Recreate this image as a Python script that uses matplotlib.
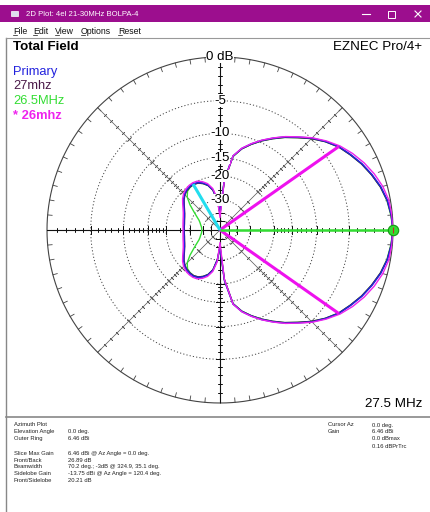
import numpy as np
import matplotlib
matplotlib.use("Agg")
import matplotlib.pyplot as plt
from matplotlib.patches import Rectangle

plt.rcParams['font.family'] = ['Liberation Sans', 'DejaVu Sans']

# ---------------- data (dB relative to outer ring, azimuth deg; symmetric pattern 0..180) ----------------
az_deg = [0, 5, 10, 15, 20, 25, 30, 35, 40, 45, 50, 55, 60, 65, 70, 75, 80, 85, 90,
          95, 100, 105, 110, 115, 120, 125, 130, 135, 140, 145, 150, 155, 160, 165, 170, 175, 180]
primary_db = [0.0, -0.1, -0.3, -0.65, -1.15, -1.7, -2.35, -3.0, -3.9, -4.9, -6.1, -7.2, -8.4, -9.6, -10.9,
              -12.3, -14.3, -21.0, -40.0,
              -30.0, -24.7, -22.5, -21.3, -20.5, -20.2, -20.3, -20.6, -21.2, -22.2, -23.4, -24.5, -25.4,
              -26.0, -26.4, -26.7, -26.85, -26.89]
mhz27_db = [0.0, -0.12, -0.32, -0.7, -1.2, -1.75, -2.4, -3.05, -3.95, -5.0, -6.2, -7.3, -8.5, -9.7, -11.0,
            -12.4, -14.4, -21.5, -40.0,
            -30.5, -25.0, -22.7, -21.5, -20.7, -20.4, -20.5, -20.8, -21.4, -22.4, -23.6, -24.7, -25.6,
            -26.2, -26.6, -26.9, -27.0, -27.1]
mhz265_db = [0.0, -0.15, -0.35, -0.7, -1.2, -1.75, -2.4, -3.05, -3.95, -5.0, -6.2, -7.3, -8.5, -9.7, -11.0,
             -12.4, -14.4, -21.5, -40.0,
             -30.0, -24.9, -22.7, -21.5, -20.7, -20.4, -20.6, -21.1, -22.6, -25.5, -29.0, -32.0, -34.5,
             -36.0, -37.0, -38.0, -38.5, -38.6]
mhz26_db = [0.0, -0.05, -0.15, -0.45, -0.9, -1.45, -2.1, -2.85, -3.8, -4.85, -6.05, -7.15, -8.35, -9.55, -10.85,
            -12.25, -14.25, -21.5, -45.0,
            -29.0, -24.2, -22.0, -20.8, -20.0, -19.8, -19.9, -20.2, -20.8, -21.7, -22.9, -24.0, -24.9,
            -25.5, -25.9, -26.2, -26.4, -26.5]

trace_names = ["Primary", "27mhz", "26.5MHz", "* 26mhz"]
trace_colors = ["#2222DD", "#4A1A48", "#33DD33", "#EE22EE"]

ring_db = [-5, -10, -15, -20, -30, -40, -50]
ring_labels = ["-5", "-10", "-15", "-20", "-30"]
tick_db = [-1, -2, -3, -4, -6, -7, -8, -9, -11, -12, -13, -14, -16, -17, -18, -19, -25]

beam_edges_az = [35.1, 324.9]
beam_edge_db = -3.0
sidelobe_az = 120.4
sidelobe_db = -20.21
cursor_az = 0.0
cursor_db = 0.0

info_left_labels = ["Azimuth Plot", "Elevation Angle", "Outer Ring", "Slice Max Gain", "Front/Back",
                    "Beamwidth", "Sidelobe Gain", "Front/Sidelobe"]
info_left_values = ["", "0.0 deg.", "6.46 dBi", "6.46 dBi @ Az Angle = 0.0 deg.", "26.89 dB",
                    "70.2 deg.; -3dB @ 324.9, 35.1 deg.", "-13.75 dBi @ Az Angle = 120.4 deg.", "20.21 dB"]
info_right_labels = ["Cursor Az", "Gain", "", ""]
info_right_values = ["0.0 deg.", "6.46 dBi", "0.0 dBmax", "0.16 dBPrTrc"]

# ---------------- figure ----------------
W, H = 430, 512
fig = plt.figure(figsize=(W / 100, H / 100), dpi=100)
fig.patch.set_facecolor("white")

bg = fig.add_axes([0, 0, 1, 1])
bg.set_xlim(0, W)
bg.set_ylim(H, 0)
bg.axis("off")

# window chrome
bg.add_patch(Rectangle((0, 5), W, 17, color="#9C0E8E", lw=0))
bg.text(26, 14, "2D Plot: 4el 21-30MHz BOLPA-4", color="white", fontsize=5.6, va="center", ha="left")
bg.add_patch(Rectangle((11, 11), 7, 5, facecolor="#DDDDEE", edgecolor="white", lw=0.5))
bg.plot([362, 370], [14, 14], color="white", lw=0.8)
bg.add_patch(Rectangle((387.5, 10.5), 7, 7, facecolor="none", edgecolor="white", lw=0.7))
bg.plot([415, 421], [11, 17], color="white", lw=0.8)
bg.plot([415, 421], [17, 11], color="white", lw=0.8)
menu = [("File", 13), ("Edit", 33), ("View", 55), ("Options", 81), ("Reset", 118)]
for name, x in menu:
    bg.text(x, 31, name, fontsize=6.3, ha="left", va="center", color="#111111")
    bg.plot([x, x + 4], [35.3, 35.3], color="#111111", lw=0.5)
bg.plot([5.5, 5.5], [38, H], color="#888888", lw=1.0)
bg.plot([5.5, W], [38, 38], color="#999999", lw=0.8)
bg.plot([5.5, W], [416.5, 416.5], color="#888888", lw=1.2)

# titles
bg.text(13, 47, "Total Field", fontsize=9.6, fontweight="bold", ha="left", va="center")
bg.text(422, 47, "EZNEC Pro/4+", fontsize=9.6, ha="right", va="center")
legend_y = [72, 86, 101, 116]
for name, col, y in zip(trace_names, trace_colors, legend_y):
    bg.text(13, y, name, fontsize=9.3, color=col, ha="left", va="center",
            fontweight="bold" if name.startswith("*") else "normal")
bg.text(422, 404, "27.5 MHz", fontsize=9.6, ha="right", va="center")

# info panel
rows_y = [425, 431.7, 438.7, 453.3, 460, 466.7, 473.3, 480]
for lab, val, y in zip(info_left_labels, info_left_values, rows_y):
    bg.text(14, y, lab, fontsize=4.2, ha="left", va="center", color="#222222")
    bg.text(68, y, val, fontsize=4.2, ha="left", va="center", color="#222222")
rows_r = [425, 431.7, 438.7, 446]
for lab, val, y in zip(info_right_labels, info_right_values, rows_r):
    bg.text(328, y, lab, fontsize=4.2, ha="left", va="center", color="#222222")
    bg.text(372, y, val, fontsize=4.2, ha="left", va="center", color="#222222")

# ---------------- polar plot (ARRL log scale) ----------------
cx, cy, R = 220, 230, 173
ax = fig.add_axes([(cx - R) / W, (H - cy - R) / H, 2 * R / W, 2 * R / H], projection="polar")


def fwd(db):
    return np.power(0.89, -np.asarray(db, dtype=float) / 2.0)


def inv(r):
    r = np.clip(np.asarray(r, dtype=float), 1e-12, None)
    return -2.0 * np.log(r) / np.log(0.89)


ax.set_rscale("function", functions=(fwd, inv))
ax.set_rlim(-150, 0)
ax.set_xticks([])
ax.set_yticks([])
ax.grid(False)
ax.spines["polar"].set_visible(False)
ax.set_facecolor("none")

th_full = np.linspace(0, 2 * np.pi, 721)
# dotted rings
for d in ring_db:
    ax.plot(th_full, np.full_like(th_full, d), color="#444444", lw=0.7, ls=(0, (1.2, 2.2)), zorder=1)
# outer ring
ax.plot(th_full, np.zeros_like(th_full), color="#444444", lw=0.8, clip_on=False, zorder=2)
# outer ring ticks every 5 deg
for a in range(0, 360, 5):
    t = np.deg2rad(a)
    ax.plot([t, t], [0, -0.45], color="#444444", lw=0.6, clip_on=False, zorder=2)
# axes lines
for a in [0, 90, 180, 270]:
    t = np.deg2rad(a)
    ax.plot([t, t], [-150, 0], color="#111111", lw=0.8, zorder=2)
for a in [45, 135, 225, 315]:
    t = np.deg2rad(a)
    ax.plot([t, t], [-150, 0], color="#555555", lw=0.5, zorder=2)
# tick marks along axes
for a in [0, 45, 90, 135, 180, 225, 270, 315]:
    t = np.deg2rad(a)
    mk = (2, 2, a)
    main = a % 90 == 0
    col = "#111111" if main else "#555555"
    ax.plot(np.full(len(tick_db), t), tick_db, ls="none", marker=mk,
            ms=3.2 if main else 2.4, mew=0.6 if main else 0.5, color=col, zorder=2)
    ax.plot(np.full(len(ring_db), t), ring_db, ls="none", marker=mk,
            ms=6 if main else 4, mew=0.7 if main else 0.5, color=col, zorder=2)

# traces (primary-family drawn under the magenta 26mhz trace)
az = np.array(az_deg, dtype=float)
th = np.deg2rad(np.concatenate([az, 360 - az[-2::-1]]))
order = [2, 1, 0, 3]
all_vals = [primary_db, mhz27_db, mhz265_db, mhz26_db]
widths = [1.1, 1.0, 1.0, 1.0]
for i in order:
    v = np.asarray(all_vals[i], dtype=float)
    ax.plot(th, np.concatenate([v, v[-2::-1]]), color=trace_colors[i], lw=widths[i], zorder=4)

# markers: beamwidth, sidelobe, cursor
for a in beam_edges_az:
    t = np.deg2rad(a)
    ax.plot([t, t], [-150, beam_edge_db], color="#EE11EE", lw=2.2, zorder=5, solid_capstyle="butt")
t = np.deg2rad(sidelobe_az)
ax.plot([t, t], [-150, sidelobe_db], color="#22DDEE", lw=2.2, zorder=5, solid_capstyle="butt")
t = np.deg2rad(cursor_az)
ax.plot([t, t], [-150, cursor_db], color="#33DD33", lw=1.8, zorder=5, solid_capstyle="butt", clip_on=False)
ax.plot([t], [cursor_db], marker="o", ms=7.5, mfc="#33DD33", mec="#119911", mew=0.8, clip_on=False, zorder=6)
ax.plot([t], [cursor_db], marker="|", ms=5, mec="#CC2222", mew=0.8, clip_on=False, zorder=7)

# ring labels
for d, lab in zip(ring_db, ring_labels):
    ax.text(np.pi / 2, d, lab, fontsize=9.6, ha="center", va="center", zorder=8,
            bbox=dict(facecolor="white", edgecolor="none", pad=0.2))
ax.text(np.pi / 2, 0, "0 dB", fontsize=9.6, ha="center", va="center", zorder=8, clip_on=False,
        bbox=dict(facecolor="white", edgecolor="none", pad=0.3))

fig.savefig("out.png", dpi=100, facecolor="white")
